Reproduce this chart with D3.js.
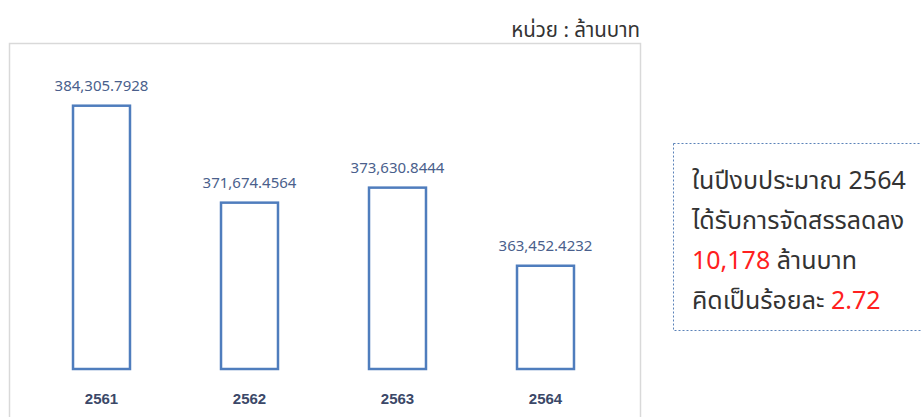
<!DOCTYPE html>
<html>
<head>
<meta charset="utf-8">
<script src="https://cdn.jsdelivr.net/npm/d3@7"></script>
<style>
    body { margin: 0; background: #fff; }
    svg { display: block; font-family: Tahoma, "Noto Sans Thai", "Noto Sans", "DejaVu Sans", sans-serif; }
</style>
</head>
<body>
<div id="chart"></div>
<script>
// data
let years = ["2561", "2562", "2563", "2564"];
let budgets = [384305.7928, 371674.4564, 373630.8444, 363452.4232];
let unitLabel = "หน่วย : ล้านบาท";
let noteLines = [
    [{t: "ในปีงบประมาณ 2564", red: false}],
    [{t: "ได้รับการจัดสรรลดลง", red: false}],
    [{t: "10,178", red: true}, {t: " ล้านบาท", red: false}],
    [{t: "คิดเป็นร้อยละ ", red: false}, {t: "2.72", red: true}]
];

let width = 921, height = 417;

let svg = d3.select("#chart").append("svg")
    .attr("width", width)
    .attr("height", height);

// plot frame
svg.append("rect")
    .attr("x", 9.5).attr("y", 43.5)
    .attr("width", 631).attr("height", 420)
    .attr("fill", "none")
    .attr("stroke", "#d9d9d9")
    .attr("stroke-width", 1.5);

// scales
let x = d3.scaleBand()
    .domain(years)
    .range([27.5, 619.5])
    .paddingInner(0.615)
    .paddingOuter(0.3075);

let y = d3.scaleLinear()
    .domain([350000, 390000])
    .range([369, 62]);

svg.selectAll(".bar")
    .data(budgets)
    .enter()
    .append("rect")
    .attr("class", "bar")
    .attr("x", (d, i) => x(years[i]))
    .attr("y", d => y(d))
    .attr("width", x.bandwidth())
    .attr("height", d => y(350000) - y(d))
    .attr("fill", "#fff")
    .attr("stroke", "#4f7dbd")
    .attr("stroke-width", 2.5);

// value labels
svg.selectAll(".val")
    .data(budgets)
    .enter()
    .append("text")
    .attr("class", "val")
    .attr("x", (d, i) => x(years[i]) + x.bandwidth() / 2)
    .attr("y", d => y(d) - 15)
    .attr("text-anchor", "middle")
    .attr("font-size", 15)
    .attr("fill", "#4a5f8c")
    .text(d => d3.format(",.4f")(d));

// category axis labels
let xAxis = svg.append("g")
    .attr("transform", "translate(0,393)")
    .call(d3.axisBottom(x).tickSize(0).tickPadding(0));
xAxis.select(".domain").remove();
xAxis.selectAll("text")
    .attr("font-size", 15)
    .attr("font-weight", "bold")
    .attr("font-family", null)
    .attr("fill", "#3b4868");

// unit label
svg.append("text")
    .attr("x", 640)
    .attr("y", 37)
    .attr("text-anchor", "end")
    .attr("font-size", 20.5)
    .attr("fill", "#333")
    .text(unitLabel);

// note box
svg.append("rect")
    .attr("x", 673.5).attr("y", 143.5)
    .attr("width", 260).attr("height", 187)
    .attr("fill", "#fff")
    .attr("stroke", "#5b82b8")
    .attr("stroke-width", 1)
    .attr("stroke-dasharray", "2,2");

let note = svg.append("text")
    .attr("font-size", 25)
    .attr("fill", "#333");

noteLines.forEach((line, i) => {
    let row = note.append("tspan")
        .attr("x", 692)
        .attr("y", 189 + i * 40);
    line.forEach(part => {
        row.append("tspan")
            .attr("fill", part.red ? "#ff2020" : "#333")
            .text(part.t);
    });
});
</script>
</body>
</html>
